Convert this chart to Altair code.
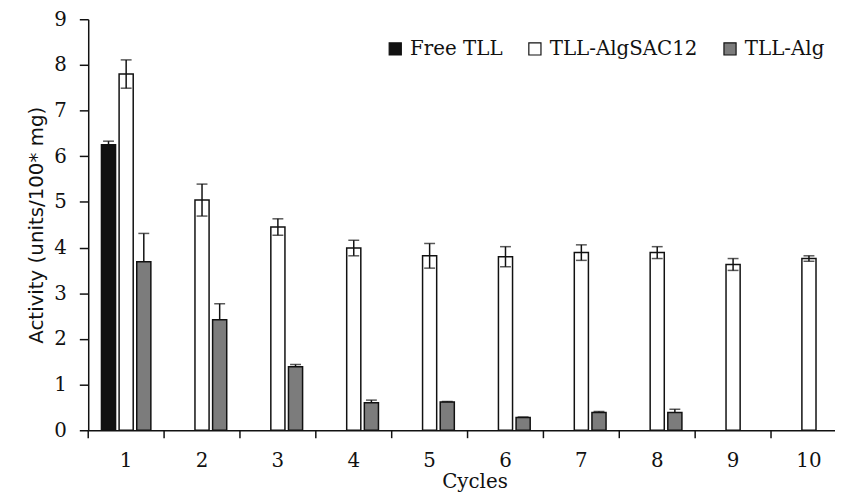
import altair as alt
import pandas as pd

cycles = [1, 2, 3, 4, 5, 6, 7, 8, 9, 10]
series = ["Free TLL", "TLL-AlgSAC12", "TLL-Alg"]

free_tll = [6.25]
free_err = [0.08]
sac12 = [7.80, 5.04, 4.45, 3.99, 3.82, 3.80, 3.89, 3.89, 3.63, 3.76]
sac12_err = [0.31, 0.35, 0.18, 0.17, 0.27, 0.22, 0.17, 0.13, 0.13, 0.06]
alg = [3.69, 2.42, 1.39, 0.60, 0.62, 0.28, 0.39, 0.39]
alg_err = [0.62, 0.35, 0.05, 0.06, 0.01, 0.01, 0.02, 0.07]

rows = []
for vals, errs, name in [(free_tll, free_err, series[0]),
                         (sac12, sac12_err, series[1]),
                         (alg, alg_err, series[2])]:
    for i, (v, e) in enumerate(zip(vals, errs)):
        rows.append({"cycle": cycles[i], "series": name, "value": v,
                     "hi": v + e, "lo": (v - e) if name == series[1] else v})
df = pd.DataFrame(rows)
ticks_df = pd.DataFrame({"cycle": cycles})

SERIF = "DejaVu Serif"
H = 415

x_enc = alt.X("cycle:O", title="Cycles",
              scale=alt.Scale(paddingInner=0, paddingOuter=0),
              axis=alt.Axis(labelAngle=0, ticks=False, labelFont=SERIF,
                            labelFontSize=20, labelColor="#111", labelPadding=21,
                            domainColor="#111", domainWidth=1.5,
                            titleFont=SERIF, titleFontSize=20, titleFontWeight="normal",
                            titleColor="#111", titlePadding=1, titleX=390))
xo_enc = alt.XOffset("series:N",
                     scale=alt.Scale(domain=series, paddingInner=0.2, paddingOuter=0.75))
y_scale = alt.Scale(domain=[0, 9], nice=False)

bars = alt.Chart(df).mark_bar(stroke="#111", strokeWidth=1.5).encode(
    x=x_enc,
    xOffset=xo_enc,
    y=alt.Y("value:Q", scale=y_scale,
            axis=alt.Axis(values=list(range(10)), grid=False, tickSize=9,
                          tickColor="#111", tickWidth=1.5, domainColor="#111",
                          domainWidth=1.5, labelFont=SERIF, labelFontSize=20,
                          labelColor="#111", labelPadding=13,
                          title="Activity  (units/100* mg)", titleFont="DejaVu Sans",
                          titleFontSize=20, titleFontWeight="normal",
                          titleColor="#111", titlePadding=7)),
    fill=alt.Fill("series:N",
                  scale=alt.Scale(domain=series, range=["#111111", "#ffffff", "#7c7c7c"]),
                  legend=alt.Legend(title=None, orient="none", direction="horizontal",
                                    legendX=300, legendY=20, symbolType="square",
                                    symbolSize=150, symbolStrokeColor="#111",
                                    symbolStrokeWidth=1.2, symbolOpacity=1,
                                    labelFont=SERIF, labelFontSize=20,
                                    labelColor="#111", labelOffset=5,
                                    columnPadding=22, padding=0)),
)

err = alt.Chart(df).mark_rule(color="#111", strokeWidth=1.5).encode(
    x="cycle:O", xOffset=xo_enc,
    y=alt.Y("lo:Q", scale=y_scale), y2="hi:Q")

cap_hi = alt.Chart(df).mark_tick(color="#111", thickness=1.5, size=11).encode(
    x="cycle:O", xOffset=xo_enc, y=alt.Y("hi:Q", scale=y_scale))

cap_lo = alt.Chart(df).transform_filter(
    alt.datum.series == series[1]
).mark_tick(color="#111", thickness=1.5, size=11).encode(
    x="cycle:O", xOffset=xo_enc, y=alt.Y("lo:Q", scale=y_scale))

xticks = alt.Chart(ticks_df).mark_rule(color="#111", strokeWidth=1.5).encode(
    x=alt.X("cycle:O", bandPosition=0),
    y=alt.value(H), y2=alt.value(H + 8))

chart = alt.layer(bars, err, cap_hi, cap_lo, xticks).properties(
    width=766, height=H,
    padding={"left": 81, "top": 9, "right": -12, "bottom": 61},
    autosize=alt.AutoSizeParams(type="none"),
    background="white",
).configure_view(stroke=None)

chart.save("out.html", embed_options={"renderer": "svg", "actions": False})
